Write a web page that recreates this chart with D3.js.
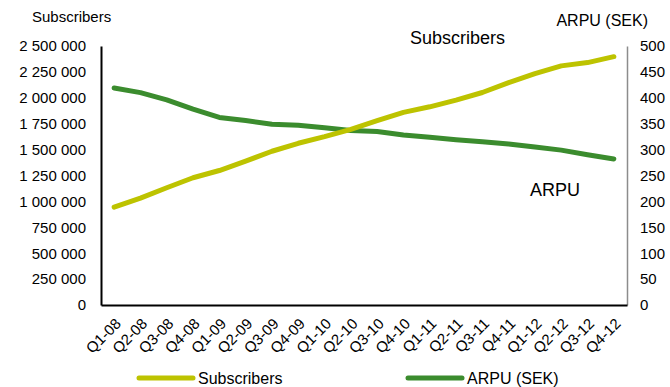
<!DOCTYPE html>
<html>
<head>
<meta charset="utf-8">
<script src="https://cdn.jsdelivr.net/npm/d3@7"></script>
<style>
  body { margin: 0; background: #fff; }
  svg { font-family: "Liberation Sans", Arial, sans-serif; }
</style>
</head>
<body>
<svg id="chart" width="670" height="387"></svg>
<script>
// quarters on the x axis
const quarters = ["Q1-08", "Q2-08", "Q3-08", "Q4-08", "Q1-09", "Q2-09", "Q3-09", "Q4-09",
    "Q1-10", "Q2-10", "Q3-10", "Q4-10", "Q1-11", "Q2-11", "Q3-11", "Q4-11",
    "Q1-12", "Q2-12", "Q3-12", "Q4-12"];

// subscribers (left axis)
const subscribers = [945000, 1032000, 1132000, 1228000, 1298000, 1388000, 1484000, 1561000,
    1625000, 1695000, 1779000, 1859000, 1913000, 1978000, 2051000, 2147000,
    2234000, 2308000, 2340000, 2397000];

// ARPU in SEK (right axis)
const arpu = [419, 410, 396, 378, 362, 356, 349, 347, 342, 337, 335, 328,
    324, 319, 315, 311, 305, 299, 290, 282];

const leftTicks = [0, 250000, 500000, 750000, 1000000, 1250000, 1500000, 1750000, 2000000, 2250000, 2500000];
const rightTicks = [0, 50, 100, 150, 200, 250, 300, 350, 400, 450, 500];

const subColor = "#bdc300";
const arpuColor = "#3b8c2e";

const svg = d3.select("#chart");
const plotLeft = 101, plotRight = 627, plotTop = 46, plotBottom = 305;

const x = d3.scaleBand().domain(quarters).range([plotLeft, plotRight]);
const yLeft = d3.scaleLinear().domain([0, 2500000]).range([plotBottom, plotTop]);
const yRight = d3.scaleLinear().domain([0, 500]).range([plotBottom, plotTop]);

// thousands separated by spaces
const fmt = v => d3.format(",")(v).replace(/,/g, " ");

// left axis
const leftAxis = svg.append("g")
    .attr("transform", `translate(${plotLeft},0)`)
    .call(d3.axisLeft(yLeft).tickValues(leftTicks).tickFormat(fmt).tickSize(0).tickPadding(15));
leftAxis.select(".domain").attr("stroke", "#000").attr("stroke-width", 2);
leftAxis.selectAll("text").style("font-size", "15px").attr("fill", "#000")
    .attr("font-family", "Liberation Sans, Arial, sans-serif");

// right axis
const rightAxis = svg.append("g")
    .attr("transform", `translate(${plotRight},0)`)
    .call(d3.axisRight(yRight).tickValues(rightTicks).tickSize(0).tickPadding(13));
rightAxis.select(".domain").attr("stroke", "#8c8c8c").attr("stroke-width", 1.5);
rightAxis.selectAll("text").style("font-size", "15px").attr("fill", "#000")
    .attr("font-family", "Liberation Sans, Arial, sans-serif");

// bottom axis
const bottomAxis = svg.append("g")
    .attr("transform", `translate(0,${plotBottom})`)
    .call(d3.axisBottom(x).tickSize(0));
bottomAxis.select(".domain").attr("stroke", "#000").attr("stroke-width", 2);
bottomAxis.selectAll("text")
    .attr("font-family", "Liberation Sans, Arial, sans-serif")
    .style("font-size", "15px")
    .attr("fill", "#000")
    .attr("text-anchor", "end")
    .attr("x", 0).attr("y", 0).attr("dy", "0.35em")
    .attr("transform", "translate(4,16) rotate(-45)");

// lines
const subLine = d3.line()
    .x((d, i) => x(quarters[i]) + x.bandwidth() / 2)
    .y(d => yLeft(d));
const arpuLine = d3.line()
    .x((d, i) => x(quarters[i]) + x.bandwidth() / 2)
    .y(d => yRight(d));

svg.append("path").datum(arpu)
    .attr("d", arpuLine)
    .attr("fill", "none").attr("stroke", arpuColor)
    .attr("stroke-width", 5).attr("stroke-linecap", "round").attr("stroke-linejoin", "round");

svg.append("path").datum(subscribers)
    .attr("d", subLine)
    .attr("fill", "none").attr("stroke", subColor)
    .attr("stroke-width", 5).attr("stroke-linecap", "round").attr("stroke-linejoin", "round");

// axis titles
svg.append("text").attr("x", 32).attr("y", 22)
    .style("font-size", "15px").text("Subscribers");
svg.append("text").attr("x", 648).attr("y", 26).attr("text-anchor", "end")
    .style("font-size", "16px").text("ARPU (SEK)");

// in-chart labels
svg.append("text").attr("x", 410).attr("y", 44)
    .style("font-size", "18px").text("Subscribers");
svg.append("text").attr("x", 530).attr("y", 196)
    .style("font-size", "18px").text("ARPU");

// legend
const legendItems = [
    {name: "Subscribers", color: subColor, x: 139},
    {name: "ARPU (SEK)", color: arpuColor, x: 408}
];
const legend = svg.selectAll(".legend")
    .data(legendItems)
    .enter()
    .append("g")
    .attr("class", "legend")
    .attr("transform", d => `translate(${d.x},378)`);
legend.append("line")
    .attr("x1", 0).attr("x2", 54).attr("y1", 0).attr("y2", 0)
    .attr("stroke", d => d.color).attr("stroke-width", 5).attr("stroke-linecap", "round");
legend.append("text")
    .attr("x", 59).attr("y", 0).attr("dy", "0.35em")
    .style("font-size", "16px")
    .text(d => d.name);
</script>
</body>
</html>
